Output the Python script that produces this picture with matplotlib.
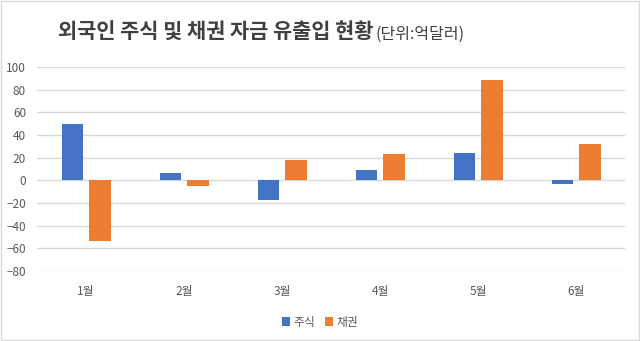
import matplotlib.pyplot as plt
import numpy as np
from matplotlib.patches import Rectangle

plt.rcParams['font.family'] = ['Noto Sans CJK KR', 'DejaVu Sans']

months = ["1월", "2월", "3월", "4월", "5월", "6월"]
stocks = [50, 7, -17, 9, 24, -3]
bonds = [-53, -5, 18, 23, 89, 32]
yticks = [-80, -60, -40, -20, 0, 20, 40, 60, 80, 100]

blue = "#4472C4"
orange = "#ED7D31"
grey = "#595959"

fig = plt.figure(figsize=(6.4, 3.41), dpi=100)
ax = fig.add_axes([0.058, 0.205, 0.919, 0.598])

x = np.arange(len(months))
w = 0.22
gap = 0.06
ax.bar(x - (w + gap) / 2, stocks, width=w, color=blue, label="주식", zorder=3)
ax.bar(x + (w + gap) / 2, bonds, width=w, color=orange, label="채권", zorder=3)

ax.set_xlim(-0.5, len(months) - 0.5)
ax.set_ylim(-80, 100)
ax.set_yticks(yticks)
ax.set_xticks(x)
ax.set_xticklabels(months)
ax.yaxis.grid(True, color="#D9D9D9", linewidth=1, zorder=0)
ax.tick_params(axis="both", length=0, colors=grey, labelsize=8.5)
ax.tick_params(axis="x", pad=10)
ax.tick_params(axis="y", pad=8)
for s in ax.spines.values():
    s.set_visible(False)

ax.legend(loc="center", bbox_to_anchor=(0.5, 0.055), bbox_transform=fig.transFigure,
          ncol=2, frameon=False, fontsize=8.5, handlelength=0.7, handleheight=0.7,
          handletextpad=0.3, columnspacing=0.8, labelcolor=grey)

fig.text(0.584, 0.905, "외국인 주식 및 채권 자금 유출입 현황", ha="right", va="center",
         fontsize=15, fontweight="bold", color="#404040")
fig.text(0.586, 0.898, "(단위:억달러)", ha="left", va="center",
         fontsize=11.5, color="#404040")

fig.patches.append(Rectangle((0.002, 0.003), 0.996, 0.994, transform=fig.transFigure,
                             fill=False, edgecolor="#D9D9D9", linewidth=1))

fig.savefig("out.png", dpi=100)
